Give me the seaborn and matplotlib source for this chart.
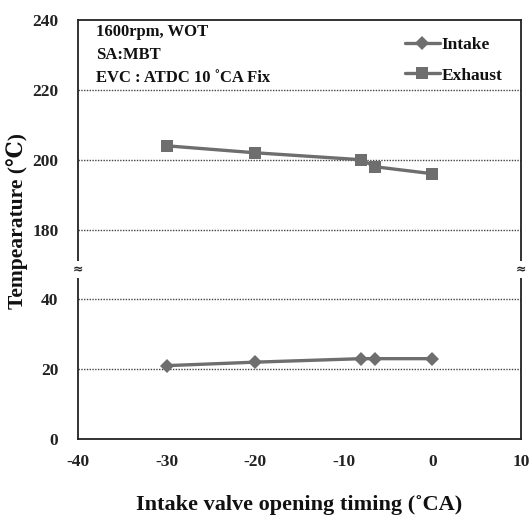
import matplotlib
matplotlib.use("Agg")
import matplotlib.pyplot as plt
import numpy as np
import pandas as pd
import seaborn as sns

# Intake valve opening timing (deg CA) and measured temperatures (deg C)
ivo_timing = [-30, -20, -8, -6.5, 0]
intake_temp = [21, 22, 23, 23, 23]
exhaust_temp = [204, 202, 200, 198, 196]

series_names = ["Intake", "Exhaust"]
y_tick_values = [0, 20, 40, 180, 200, 220, 240]
x_tick_values = [-40, -30, -20, -10, 0, 10]

# Broken y axis: 0-40 shown as is, 180-240 shifted down next to it
BREAK_LOW, BREAK_HIGH = 40, 180
GAP = 20


def to_axis(v):
    v = np.asarray(v, dtype=float)
    return np.where(v <= BREAK_LOW, v, v - (BREAK_HIGH - BREAK_LOW) + GAP)


df = pd.DataFrame({
    "timing": ivo_timing * 2,
    "temp": list(intake_temp) + list(exhaust_temp),
    "series": [series_names[0]] * len(ivo_timing) + [series_names[1]] * len(ivo_timing),
})
df["y_axis"] = to_axis(df["temp"])

sns.set_theme(style="white")
serif = ["Liberation Serif", "DejaVu Serif"]
plt.rcParams["font.family"] = serif
plt.rcParams["font.weight"] = "bold"

fig = plt.figure(figsize=(5.30, 5.17), dpi=100)
ax = fig.add_axes([0.147, 0.151, 0.836, 0.810])

sns.lineplot(
    data=df, x="timing", y="y_axis", hue="series", style="series",
    markers={"Intake": "D", "Exhaust": "s"}, dashes=False,
    palette={"Intake": "#6e6e6e", "Exhaust": "#6e6e6e"},
    linewidth=2.4, markersize=8, markeredgewidth=0, ax=ax,
)
for line in ax.lines:
    if line.get_marker() == "D":
        line.set_markersize(7)

ax.set_xlim(-40, 10)
ax.set_ylim(0, to_axis(240))
ax.set_xticks(x_tick_values)
ax.set_xticklabels([str(v) for v in x_tick_values])
ax.set_yticks(to_axis(y_tick_values))
ax.set_yticklabels([str(v) for v in y_tick_values])
ax.tick_params(axis="both", length=0, labelsize=12.5, colors="#222222")
ax.tick_params(axis="x", pad=11)
ax.tick_params(axis="y", pad=14)
for lbl in ax.get_xticklabels() + ax.get_yticklabels():
    lbl.set_fontweight("bold")

# dotted grid lines
for v in [20, 40, 180, 200, 220]:
    ax.axhline(float(to_axis(v)), color="#444444", lw=1.0, ls=(0, (1, 1)), zorder=0)

for side in ["left", "bottom", "right", "top"]:
    ax.spines[side].set_visible(True)
    ax.spines[side].set_color("#222222")
    ax.spines[side].set_linewidth(1.3)

# break marks on both vertical spines
brk_y = float(to_axis(BREAK_LOW)) + GAP / 2 - 1.5
for xpos in [0.0, 1.0]:
    ax.text(xpos, brk_y, "\u2248", transform=ax.get_yaxis_transform(),
            ha="center", va="center", fontsize=9, color="#222222",
            family=["DejaVu Sans"],
            bbox=dict(boxstyle="square,pad=0.15", fc="white", ec="none"),
            zorder=5, clip_on=False)

ax.set_xlabel("Intake valve opening timing (\u02daCA)", fontsize=16,
              fontweight="bold", labelpad=18, color="#111111")
ax.set_ylabel("Tempearature (\u2103)", fontsize=15.5, fontweight="bold",
              color="#111111")
ax.yaxis.set_label_coords(-0.112, 0.52)

ax.text(0.04, 0.99, "1600rpm, WOT\nSA:MBT\nEVC : ATDC 10 \u02daCA Fix",
        transform=ax.transAxes, ha="left", va="top", fontsize=12,
        fontweight="bold", linespacing=1.55, color="#111111")

leg = ax.legend(loc="upper right", bbox_to_anchor=(0.985, 0.99), frameon=False,
                fontsize=12.5, handlelength=2.0, handletextpad=0.1,
                labelspacing=0.85, borderaxespad=0.3)
for t in leg.get_texts():
    t.set_fontweight("bold")
    t.set_color("#111111")

fig.savefig("out.png", dpi=100, facecolor="white")
